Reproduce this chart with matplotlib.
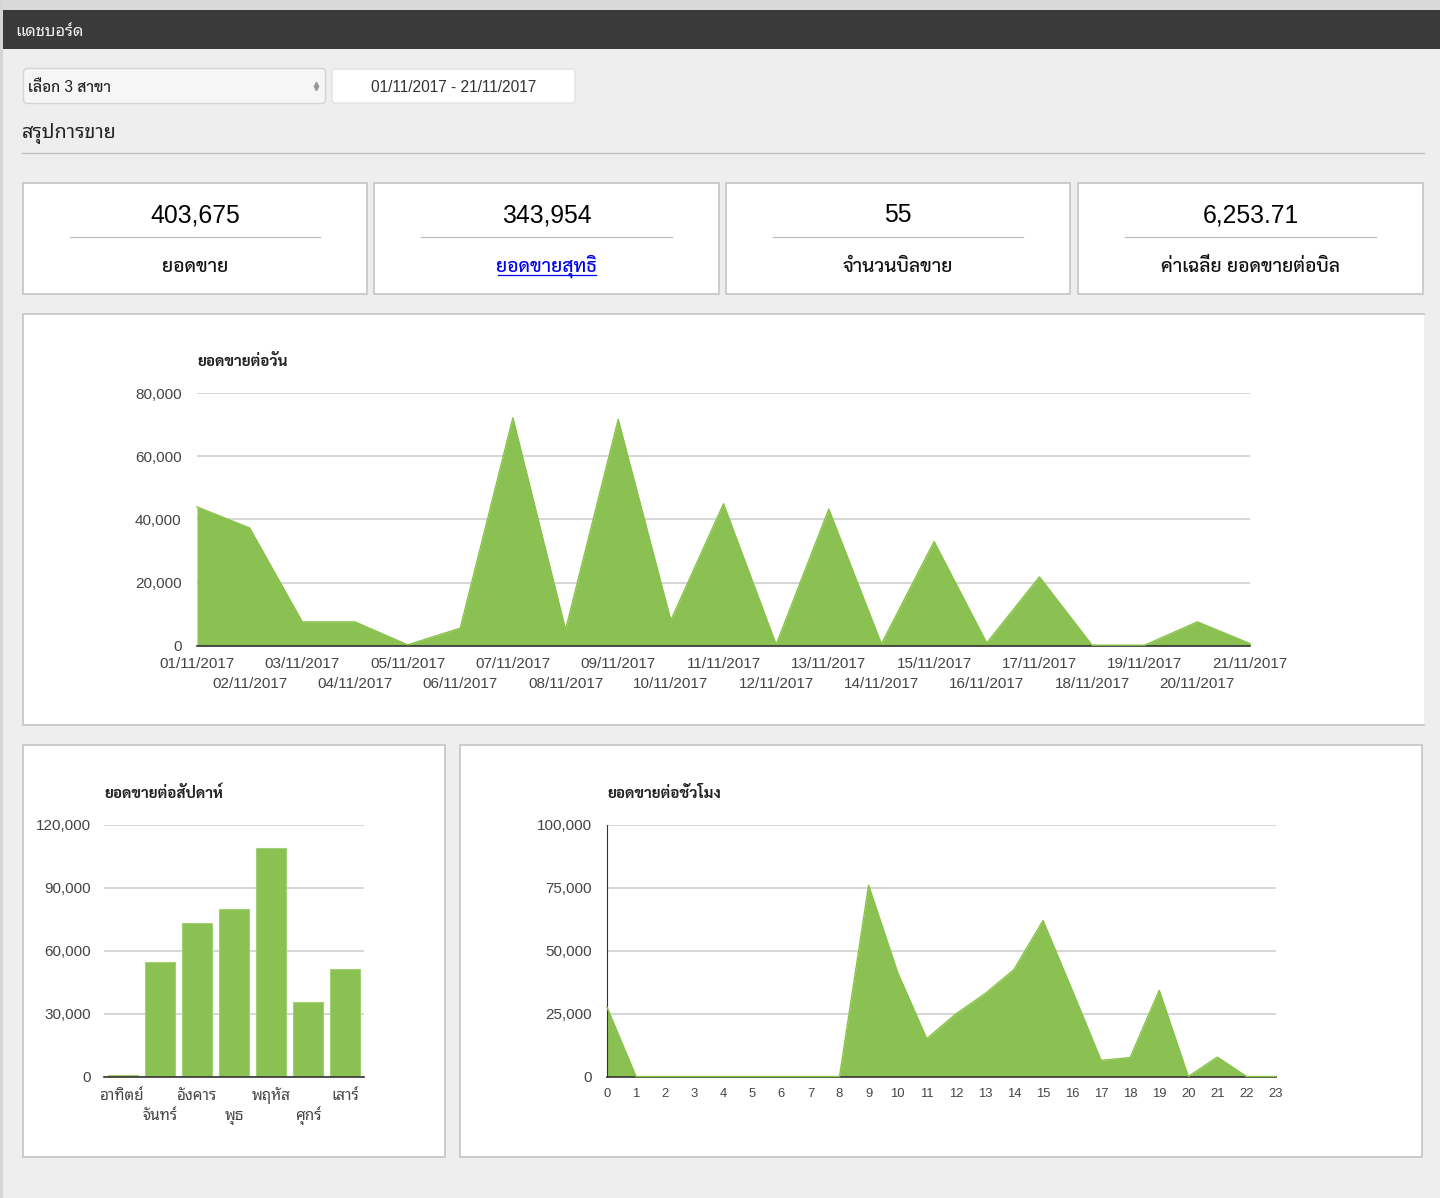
"""
Sales dashboard: summary cards plus daily, weekday and hourly sales charts.
"""

import matplotlib
matplotlib.use("Agg")
import matplotlib.pyplot as plt
from matplotlib import font_manager as fm
from matplotlib.patches import FancyBboxPatch, Rectangle
from matplotlib.ticker import FuncFormatter

W, H = 1440, 1198

# ── Data ──────────────────────────────────────────────────────────────────────

day_labels = [f"{d:02d}/11/2017" for d in range(1, 22)]
day_sales = [44000, 37300, 7500, 7500, 200, 5500, 72300, 5000, 71800, 8000, 45000,
             300, 43300, 500, 33000, 800, 21800, 100, 100, 7500, 600]

week_labels = ["อาทิตย์", "จันทร์", "อังคาร", "พุธ", "พฤหัส", "ศุกร์", "เสาร์"]
week_sales = [500, 54500, 72900, 79600, 108600, 35700, 51200]

hour_labels = [str(h) for h in range(24)]
hour_sales = [27500, 0, 0, 0, 0, 0, 0, 0, 0, 75900, 41300, 15000, 24800, 32800,
              42400, 61900, 34400, 6400, 7500, 34200, 0, 7700, 0, 0]

card_values = ["403,675", "343,954", "55", "6,253.71"]
card_names = ["ยอดขาย", "ยอดขายสุทธิ", "จำนวนบิลขาย", "ค่าเฉลี่ย ยอดขายต่อบิล"]

# ── Style ─────────────────────────────────────────────────────────────────────

GREEN = "#8bc152"
EDGE = "#86c346"
GRID = "#cccccc"
TICK = "#444444"
BORDER = "#c8c8c8"

installed = {f.name for f in fm.fontManager.ttflist}
thai = [n for n in ["Noto Sans Thai Looped", "Sarabun", "Noto Sans Thai"] if n in installed]
thai_heavy = [n for n in ["Sarabun", "Noto Sans Thai Looped", "Noto Sans Thai"] if n in installed]
FONTS = ["Liberation Sans"] + thai + ["DejaVu Sans"]
HEAVY = ["Liberation Sans"] + thai_heavy + ["DejaVu Sans"]
plt.rcParams["font.family"] = FONTS

fig = plt.figure(figsize=(W / 100, H / 100), dpi=100, facecolor="#eeeeee")

# page layer in pixel coordinates
page = fig.add_axes([0, 0, 1, 1], zorder=0)
page.set_xlim(0, W)
page.set_ylim(H, 0)
page.axis("off")


def box(x0, y0, x1, y1, face="white", edge=BORDER, lw=1.3):
    page.add_patch(Rectangle((x0, y0), x1 - x0, y1 - y0, fc=face, ec=edge, lw=lw))


def chart_axes(left, top, right, bottom, ypad=11):
    ax = fig.add_axes([left / W, 1 - bottom / H, (right - left) / W, (bottom - top) / H],
                      zorder=1)
    ax.patch.set_alpha(0)
    for side in ["top", "right", "left"]:
        ax.spines[side].set_visible(False)
    ax.spines["bottom"].set_color("#333333")
    ax.spines["bottom"].set_linewidth(1.2)
    ax.set_axisbelow(True)
    ax.grid(axis="y", color=GRID, linewidth=1.1)
    ax.yaxis.set_major_formatter(FuncFormatter(lambda v, _: f"{v:,.0f}"))
    ax.tick_params(axis="y", length=0, pad=ypad, labelsize=11, labelcolor=TICK)
    ax.tick_params(axis="x", length=0, labelsize=11, labelcolor=TICK)
    return ax


def stagger(ax, pad_a, pad_b):
    for i, tick in enumerate(ax.xaxis.get_major_ticks()):
        tick.set_pad(pad_a if i % 2 == 0 else pad_b)


def area(ax, values):
    xs = range(len(values))
    ax.fill_between(xs, values, 0, color=GREEN, linewidth=0, zorder=2)
    ax.plot(xs, values, color=EDGE, linewidth=1.0, zorder=3, clip_on=False)
    ax.set_xlim(0, len(values) - 1)


def chart_title(x, y, text):
    page.text(x, y, text, color="#222222", fontsize=11, fontweight="bold", va="center",
              family=HEAVY)


# ── Page chrome ───────────────────────────────────────────────────────────────

page.add_patch(Rectangle((0, 0), W, 10, fc="#d9d9d9", ec="none"))
page.add_patch(Rectangle((0, 0), 3, H, fc="#d6d6d6", ec="none"))
page.add_patch(Rectangle((3, 10), W - 3, 39, fc="#3a3a3a", ec="none"))
page.text(15, 31, "แดชบอร์ด", color="#f2f2f2", fontsize=11.9, va="center")

page.add_patch(FancyBboxPatch((26, 71), 297, 30, boxstyle="round,pad=2.5,rounding_size=4",
                              fc="#f6f6f6", ec="#d4d4d4", lw=1.0))
page.text(28, 87.5, "เลือก 3 สาขา", color="#222222", fontsize=11.2, va="center",
          fontweight="medium", family=HEAVY)
page.plot([316], [83.5], marker="^", ms=3.2, color="#999999", ls="none")
page.plot([316], [88], marker="v", ms=3.2, color="#999999", ls="none")
page.add_patch(FancyBboxPatch((334, 71), 239, 30, boxstyle="round,pad=2,rounding_size=3",
                              fc="white", ec="#e2e2e2", lw=1.0))
page.text(453.5, 87.5, "01/11/2017 - 21/11/2017", color="#333333", fontsize=11.2,
          ha="center", va="center")
page.text(22, 133.5, "สรุปการขาย", color="#222222", fontsize=14.2, va="center")
page.plot([22, 1424], [152.5, 152.5], color="#bdbdbd", lw=0.9)

# ── Summary cards ─────────────────────────────────────────────────────────────

card_edges = [(23, 367), (374, 719), (726, 1070), (1078, 1423)]
for (x0, x1), value, name in zip(card_edges, card_values, card_names):
    mid = (x0 + x1) / 2
    box(x0, 183, x1, 294)
    page.plot([x0 + 47, x1 - 47], [237, 237], color="#bdbdbd", lw=0.9)
    page.text(mid, 222.5, value, color="black", fontsize=17.8, ha="center", va="baseline")
    is_link = name == "ยอดขายสุทธิ"
    page.text(mid, 271.5, name, color="#0000ee" if is_link else "#111111", fontsize=13.8,
              ha="center", va="baseline", fontweight="medium", family=HEAVY)
    if is_link:
        page.plot([498, 596], [274.5, 274.5], color="#0000ee", lw=0.9)

# ── Chart panels ──────────────────────────────────────────────────────────────

# the wide panel has no visible right border
page.add_patch(Rectangle((23, 314), 1401, 411, fc="white", ec="none"))
page.plot([1424, 23, 23, 1424], [314, 314, 725, 725], color=BORDER, lw=1.3)
box(23, 745, 445, 1157)
box(460, 745, 1422, 1157)

# daily sales
ax = chart_axes(197, 393.5, 1250, 645.5)
area(ax, day_sales)
ax.set_ylim(0, 80000)
ax.set_yticks([0, 20000, 40000, 60000, 80000])
ax.set_xticks(range(len(day_labels)), day_labels)
stagger(ax, 8.5, 23)
chart_title(197, 362, "ยอดขายต่อวัน")

# sales by weekday
ax = chart_axes(104, 824.5, 364, 1076.5, ypad=9.5)
ax.bar(range(len(week_sales)), week_sales, width=0.81, color=GREEN,
       edgecolor="#a3cf75", linewidth=0.8, zorder=2)
ax.set_xlim(-0.5, 6.5)
ax.set_ylim(0, 120000)
ax.set_yticks([0, 30000, 60000, 90000, 120000])
ax.set_xticks(range(len(week_labels)), week_labels)
for label in ax.get_xticklabels():
    label.set_verticalalignment("baseline")
stagger(ax, 17, 31.5)
chart_title(104, 793, "ยอดขายต่อสัปดาห์")

# sales by hour
ax = chart_axes(607, 824.5, 1275.5, 1076.5)
area(ax, hour_sales)
ax.spines["left"].set_visible(True)
ax.spines["left"].set_color("#333333")
ax.set_ylim(0, 100000)
ax.set_yticks([0, 25000, 50000, 75000, 100000])
ax.set_xticks(range(len(hour_labels)), hour_labels)
ax.tick_params(axis="x", labelsize=9.4, pad=8.5)
chart_title(607, 793, "ยอดขายต่อชั่วโมง")

fig.savefig("out.png", dpi=100, facecolor=fig.get_facecolor())
plt.close()
